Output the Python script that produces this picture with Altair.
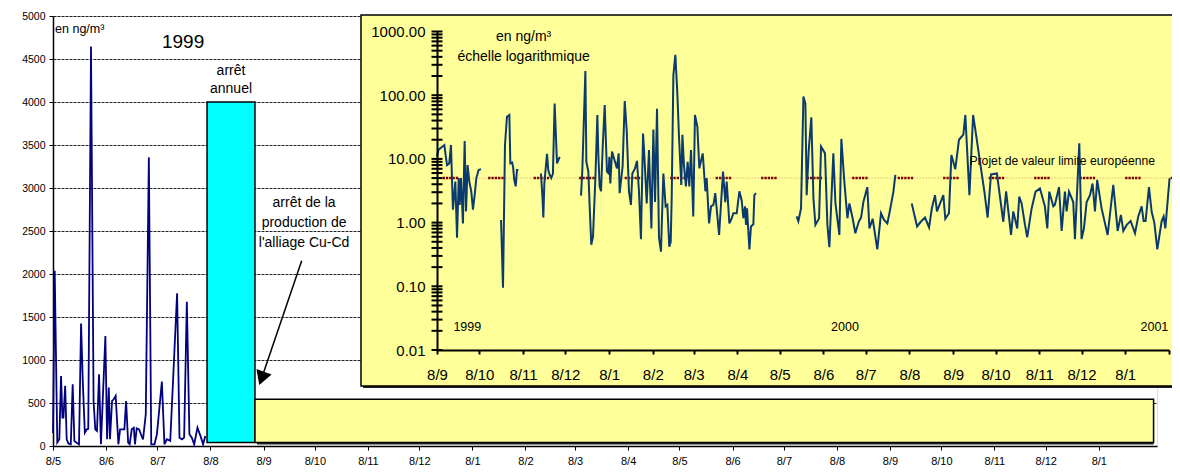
import altair as alt
import pandas as pd

FONT = "Liberation Sans"
MAIN_START = "1999-05-08"
INSET_START = "1999-09-08"

# ---------------- main chart series (days since 1999-05-08, ng/m3) ----------------
main_days = [0, 1, 2.5, 3.7, 4.7, 5.5, 6.1, 7.1, 8.0, 9.0,
             10.4, 11.5, 12.5, 13.8, 15.2, 16.4, 17.4, 18.6, 19.7, 20.6,
             22.2, 23.7, 24.7, 25.7, 26.9, 28.0, 30.6, 31.6, 32.6, 33.3,
             34.5, 35.5, 36.6, 38.2, 39.2, 40.5, 41.7, 42.7, 43.9, 44.8,
             46.0, 47.2, 47.9, 48.9, 50.3, 51.4, 52.6, 54.2, 56.0, 57.4,
             59.3, 60.7, 62.0, 63.6, 65.1, 66.5, 68.5, 72.5, 73.9, 75.4,
             76.6, 78.2, 79.7, 81.1, 82.5, 84.4, 86.5, 87.7, 89.0]
main_vals = [150, 2037, 40, 78, 815, 330, 330, 700, 78, 30,
             20, 718, 58, 39, 20, 1424, 757, 155, 194, 200,
             4644, 524, 194, 175, 834, 20, 1280, 78, 680, 78,
             524, 543, 582, 20, 194, 194, 194, 524, 39, 20,
             194, 213, 20, 205, 194, 136, 78, 369, 3356, 20,
             20, 136, 407, 749, 20, 78, 60, 1777, 97, 78,
             97, 1676, 136, 97, 20, 213, 97, 20, 116]

# shutdown bar and the box standing for the inset (days since 1999-05-08)
shutdown_days = [90, 118]
shutdown_level = [40, 4000]
inset_box_days = [118, 643]
inset_box_level = [40, 545]
arrow_from = (145.3, 2155)
arrow_to = (121.9, 787)

main_ticks = ["1999-05-08", "1999-06-08", "1999-07-08", "1999-08-08", "1999-09-08",
              "1999-10-08", "1999-11-08", "1999-12-08", "2000-01-08", "2000-02-08",
              "2000-03-08", "2000-04-08", "2000-05-08", "2000-06-08", "2000-07-08",
              "2000-08-08", "2000-09-08", "2000-10-08", "2000-11-08", "2000-12-08",
              "2001-01-08"]
main_y_ticks = [0, 500, 1000, 1500, 2000, 2500, 3000, 3500, 4000, 4500, 5000]

# ---------------- inset series (days since 1999-09-08, ng/m3), by segment ----------------
seg1 = [(0, 10.8), (1, 13.8), (2.4, 14.7), (5.2, 16.5), (7.1, 8.0), (8.7, 8.5), (9.9, 16.5),
        (11.3, 1.6), (13, 4.4), (14.2, 0.58), (15.4, 5.0), (16.1, 1.9), (17, 5.0), (18.4, 0.97),
        (19.6, 19), (20.6, 1.5), (21.7, 8.0), (22.9, 4.4), (24.3, 3.1), (25.5, 1.6), (26.7, 2.7),
        (27.9, 5.0), (29.5, 6.7), (31.2, 6.9)]
seg2 = [(45.4, 1.1), (46.8, 0.095), (48.2, 16.5), (49.6, 46), (51.3, 49), (52, 8.5), (53.2, 8.8),
        (53.9, 7.6), (54.8, 4.7), (55.8, 3.7), (56.7, 6.7), (57.7, 6.7)]
seg3 = [(73.7, 5.9), (74.7, 2.7), (75.4, 1.2), (76.1, 4.1), (78, 12), (78.9, 6.7), (79.9, 5.6),
        (81, 5.0), (82.2, 5.9), (83.4, 74), (85.1, 8.5), (87, 10.8)]
seg4 = [(102.1, 2.65), (103, 6.3), (105.2, 240), (105.9, 9.0), (107.3, 6.3), (108.2, 1.9),
        (109.4, 0.45), (110.6, 0.6), (112.3, 5.0), (113.7, 49), (114.4, 11.5), (115.3, 3.7),
        (116.3, 3.1), (117.5, 15.6), (118.9, 70), (120.5, 6.3), (121.7, 5.9), (122.2, 10.8),
        (122.9, 4.1), (124.1, 13), (124.8, 11.5), (127.6, 7.1), (128.8, 12.2), (129.5, 2.9),
        (131.6, 7.6), (133.1, 81), (134.5, 28), (136.1, 3.1), (137.5, 1.9), (138.5, 5.9),
        (140.4, 7.1), (141.8, 9.3), (143.2, 3.1), (144.6, 0.55), (146.1, 25), (147, 11.5),
        (148.7, 2.0), (150.3, 13.8), (152, 0.81), (153.4, 29), (154.6, 2.1), (156, 61),
        (157.4, 0.58), (158.8, 0.35), (160.5, 5.9), (162.1, 1.8), (163.3, 1.9), (164.7, 0.42),
        (165.7, 0.5), (166.4, 2.4), (167.6, 207), (169, 430), (170.4, 107), (171.6, 22),
        (173.2, 3.9), (174, 24), (175.1, 8.0), (176.5, 3.7), (177.7, 9.0), (178.9, 3.7),
        (180.1, 13.8), (181.7, 1.25), (182.9, 49), (184.6, 32), (186, 7.1), (188.4, 12.2),
        (190.3, 3.1), (191.2, 5.0), (192.9, 0.97), (194.3, 1.8), (196, 1.9), (197.3, 2.9),
        (200, 0.64), (202.8, 6.3), (204.4, 2.1), (205.4, 4.4), (207.3, 0.97), (209, 1.17),
        (210.1, 1.4), (212.5, 1.4), (214.4, 3.1), (216, 2.25), (217.2, 1.17), (218.4, 1.8),
        (219.1, 0.92), (219.8, 1.67), (221.5, 0.38), (222.6, 0.87), (224.3, 0.94), (225, 2.7),
        (226.2, 2.9)]
seg5 = [(255, 1.25), (256.2, 1.05), (258.1, 1.67), (259.8, 95), (261.2, 74), (262.1, 2.7),
        (263.5, 13), (265.4, 45), (266.9, 2.4), (268.3, 0.92), (270.9, 1.17), (272.3, 15.6),
        (275.1, 12.2), (276.8, 0.92), (278.2, 0.41), (281, 12.2), (282.5, 2.0), (285.3, 0.64),
        (286.7, 20.6), (288.8, 4.4), (291, 1.17), (292.4, 2.0), (294.7, 1.17), (296.6, 0.68),
        (299, 1.03), (300.7, 1.2), (302.3, 2.1), (305.1, 3.6), (306.6, 0.81), (308.9, 1.15),
        (312.2, 0.38), (314.8, 1.4), (317, 1.1), (319.3, 0.97), (321.2, 1.57), (323.6, 3.06),
        (325, 5.6)]
seg6 = [(336.6, 2.0), (340.4, 0.87), (343, 1.03), (346, 1.2), (348.9, 0.84), (350.8, 1.65),
        (353.1, 2.7), (354.5, 1.5), (356.7, 2.0), (359, 2.7), (360.4, 1.15), (363, 1.4),
        (364.7, 11.5), (367.5, 6.9), (370.1, 20), (373.2, 24), (374.6, 49), (377.5, 2.7),
        (380.1, 49), (382.2, 24), (385, 9.0), (388.1, 3.06), (390.4, 1.2), (392.8, 5.7),
        (397, 5.9), (401.5, 1.03), (403.5, 3.1), (407, 0.64), (408.6, 1.5), (411.4, 0.81),
        (412.8, 2.55), (414.5, 2.0), (416.9, 0.92), (418.5, 0.59), (421.6, 1.67), (424.4, 3.06),
        (427.5, 3.45), (431, 1.8), (432.7, 0.81), (434.1, 3.06), (437, 1.8), (438.1, 1.9),
        (441, 3.6), (442.9, 0.74), (445.2, 3.06), (446.4, 1.5), (448.1, 3.06), (451.1, 2.1),
        (452.3, 0.55), (455.4, 17.6), (457, 0.55), (458.7, 0.81), (460.6, 2.1), (463, 2.7),
        (464.8, 4.1), (466.5, 1.5), (468.1, 4.7), (471.2, 1.67), (475.5, 0.64), (479.5, 3.9),
        (482.6, 0.74), (484.9, 1.32), (486.6, 0.74), (489, 0.92), (491.8, 1.06), (494.9, 0.68),
        (497.2, 1.25), (499.6, 1.8), (501, 1.06), (502.4, 1.06), (504.8, 3.6), (506.7, 1.48),
        (508.6, 1.0), (510.7, 0.38), (513.8, 1.06), (515.2, 1.25), (516.4, 0.81), (519.4, 5.0)]
segments = [seg1, seg2, seg3, seg4, seg5, seg6]

limit_value = 5
limit_days = [4, 532]
inset_ticks = ["1999-09-08", "1999-10-08", "1999-11-08", "1999-12-08", "2000-01-08",
               "2000-02-08", "2000-03-08", "2000-04-08", "2000-05-08", "2000-06-08",
               "2000-07-08", "2000-08-08", "2000-09-08", "2000-10-08", "2000-11-08",
               "2000-12-08", "2001-01-08", "2001-02-08"]
inset_y_labels = [0.01, 0.1, 1, 10, 100, 1000]
inset_minor = [m * 10.0 ** k for k in range(-2, 3) for m in range(1, 10)] + [1000]


def to_dates(start, days):
    return pd.Timestamp(start) + pd.to_timedelta(list(days), unit="D")


def DT(s):
    y, m, d = (int(p) for p in s.split("-"))
    return alt.DateTime(year=y, month=m, date=d)


# ---------------- scales & axes ----------------
mx_scale = alt.Scale(domain=[DT("1999-05-08"), DT("2001-02-11")])
my_scale = alt.Scale(domain=[0, 5000], nice=False)
mx_axis = alt.Axis(title="", values=[DT(s) for s in main_ticks], format="%-d/%-m",
                   labelFont=FONT, labelFontSize=11, labelColor="black", tickColor="black",
                   tickSize=4, domainColor="black", domainWidth=1.5, labelPadding=5,
                   grid=False, labelFlush=False, labelOverlap=False)
my_axis = alt.Axis(title="", values=main_y_ticks, format="d", grid=True, gridColor="#222222",
                   gridDash=[3, 1], gridWidth=1, tickSize=4, tickColor="black",
                   domainColor="black", domainWidth=1.5, labelFont=FONT, labelFontSize=10.5,
                   labelColor="black", labelPadding=4)

ix_scale = alt.Scale(domain=[DT("1999-09-08"), DT("2001-02-08")], range=[384, 1116])
iy_scale = alt.Scale(type="log", domain=[0.01, 1000], range=[334, 15.5], nice=False)
ix_axis = alt.Axis(title="", orient="bottom", offset=-96, values=[DT(s) for s in inset_ticks],
                   labelExpr="(month(datum.value) == 1 && year(datum.value) == 2001) ? '' : timeFormat(datum.value, '%-d/%-m')",
                   labelFont=FONT, labelFontSize=15, labelColor="black", tickColor="black",
                   tickSize=4, tickWidth=2, domainColor="black", domainWidth=2,
                   labelPadding=13, zindex=1, grid=False, labelFlush=False, labelOverlap=False)
iy_axis = alt.Axis(title="", orient="left", offset=-384, values=inset_y_labels, format=".2f",
                   ticks=False, domainColor="black", domainWidth=2, labelFont=FONT,
                   labelFontSize=15, labelColor="black", labelPadding=12, zindex=1, grid=False)


def MX(f):
    return alt.X(f, scale=mx_scale, axis=mx_axis)


def MY(f):
    return alt.Y(f, scale=my_scale, axis=my_axis)


def IX(f):
    return alt.X(f, scale=ix_scale, axis=ix_axis)


def IY(f):
    return alt.Y(f, scale=iy_scale, axis=iy_axis)


# ---------------- main layers ----------------
main_df = pd.DataFrame({"date": to_dates(MAIN_START, main_days), "v": main_vals})
main_line = alt.Chart(main_df).mark_line(color="#000080", strokeWidth=1.8).encode(
    x=MX("date:T"), y=MY("v:Q"))

bar_df = pd.DataFrame({"s": to_dates(MAIN_START, [shutdown_days[0]]),
                       "e": to_dates(MAIN_START, [shutdown_days[1]]),
                       "lo": [shutdown_level[0]], "hi": [shutdown_level[1]]})
bar = alt.Chart(bar_df).mark_rect(fill="#00FFFF", stroke="black", strokeWidth=1.5).encode(
    x=MX("s:T"), x2="e:T", y=MY("lo:Q"), y2="hi:Q")

box_df = pd.DataFrame({"s": to_dates(MAIN_START, [inset_box_days[0]]),
                       "e": to_dates(MAIN_START, [inset_box_days[1]]),
                       "lo": [inset_box_level[0]], "hi": [inset_box_level[1]]})
box_shadow = alt.Chart(box_df).mark_rect(fill="#222222", xOffset=2, yOffset=2).encode(
    x=MX("s:T"), x2="e:T", y=MY("lo:Q"), y2="hi:Q")
box = alt.Chart(box_df).mark_rect(fill="#FFFF99", stroke="black", strokeWidth=1.5).encode(
    x=MX("s:T"), x2="e:T", y=MY("lo:Q"), y2="hi:Q")

arrow_df = pd.DataFrame({"s": to_dates(MAIN_START, [arrow_from[0]]),
                         "e": to_dates(MAIN_START, [arrow_to[0]]),
                         "v1": [arrow_from[1]], "v2": [arrow_to[1]]})
arrow_line = alt.Chart(arrow_df).mark_rule(color="black", strokeWidth=1.5).encode(
    x=MX("s:T"), x2="e:T", y=MY("v1:Q"), y2="v2:Q")
arrow_head = alt.Chart(arrow_df).mark_point(shape="triangle-up", filled=True, color="black",
                                            size=260, angle=200, opacity=1).encode(
    x=MX("e:T"), y=MY("v2:Q"))


def main_text(day, v, text, size, align="center", line_height=None):
    df = pd.DataFrame({"d": to_dates(MAIN_START, [day]), "v": [v], "t": [text]})
    kw = dict(align=align, baseline="alphabetic", fontSize=size, font=FONT, color="black",
              lineBreak="\n")
    if line_height:
        kw["lineHeight"] = line_height
    return alt.Chart(df).mark_text(**kw).encode(x=MX("d:T"), y=MY("v:Q"), text="t:N")


t_unit = main_text(1.2, 4798, "en ng/m³", 12.5, align="left")
t_1999 = main_text(76, 4624, "1999", 19)
t_stop = main_text(104, 4317, "arrêt\nannuel", 14, line_height=18.7)
t_cucd = main_text(146.7, 2783, "arrêt de la\nproduction de\nl'alliage Cu-Cd", 14, line_height=20)

main_group = alt.layer(main_line, bar, box_shadow, box, arrow_line, arrow_head,
                       t_unit, t_1999, t_stop, t_cucd)

# ---------------- inset layers ----------------
one = pd.DataFrame({"k": [0]})
panel_shadow = alt.Chart(one).mark_rect(fill="#222222").encode(
    x=alt.value(310), x2=alt.value(1150), y=alt.value(1), y2=alt.value(372))
panel = alt.Chart(one).mark_rect(fill="#FFFF99", stroke="black", strokeWidth=1.5).encode(
    x=alt.value(308), x2=alt.value(1150), y=alt.value(-1), y2=alt.value(370))

lim_df = pd.DataFrame({"s": to_dates(INSET_START, [limit_days[0]]),
                       "e": to_dates(INSET_START, [limit_days[1]]), "v": [limit_value]})
lim_faint = alt.Chart(lim_df).mark_rule(color="#C89A6A", strokeWidth=1, strokeDash=[1, 2]).encode(
    x=IX("s:T"), x2="e:T", y=IY("v:Q"))
lim_dark = alt.Chart(lim_df).mark_rule(color="#800000", strokeWidth=2.5,
                                       strokeDash=[2.3, 1, 2.3, 1, 2.3, 1, 2.3, 1, 2.3, 30]).encode(
    x=IX("s:T"), x2="e:T", y=IY("v:Q"))

rows = []
for i, seg in enumerate(segments):
    for d, v in seg:
        rows.append((i, d, v))
inset_df = pd.DataFrame({"seg": [r[0] for r in rows],
                         "date": to_dates(INSET_START, [r[1] for r in rows]),
                         "v": [r[2] for r in rows]})
inset_line = alt.Chart(inset_df).mark_line(color="#0B3A70", strokeWidth=2).encode(
    x=IX("date:T"), y=IY("v:Q"), detail="seg:N")

tick_df = pd.DataFrame({"t": inset_minor})
cross_ticks = alt.Chart(tick_df).mark_tick(orient="horizontal", size=11, thickness=2,
                                           color="black", opacity=1).encode(
    y=IY("t:Q"), x=alt.value(384))


def inset_text(day, v, text, size, align="center"):
    df = pd.DataFrame({"d": to_dates(INSET_START, [day]), "v": [v], "t": [text]})
    return alt.Chart(df).mark_text(align=align, baseline="alphabetic", fontSize=size,
                                   font=FONT, color="black").encode(
        x=IX("d:T"), y=IY("v:Q"), text="t:N")


i_unit = inset_text(61.4, 718, "en ng/m³", 14)
i_log = inset_text(61.4, 344, "échelle logarithmique", 14)
i_1999 = inset_text(21.5, 0.0201, "1999", 12.5)
i_2000 = inset_text(289.3, 0.0201, "2000", 12.5)
i_2001 = inset_text(518.5, 0.0201, "2001", 12.5, align="right")
i_lim = inset_text(377.5, 8.1, "Projet de valeur limite européenne", 12.2, align="left")

inset_group = alt.layer(panel_shadow, panel, lim_faint, lim_dark, inset_line, cross_ticks,
                        i_unit, i_log, i_1999, i_2000, i_2001, i_lim)

chart = alt.layer(main_group, inset_group).resolve_scale(
    x="independent", y="independent"
).properties(
    width=1104, height=430,
    autosize=alt.AutoSizeParams(type="none"),
    padding={"left": 45, "top": 8, "right": 15, "bottom": 19},
    background="white",
).configure_view(strokeWidth=0).configure(font=FONT)

chart.save("out.html", embed_options={"renderer": "svg", "actions": False})
